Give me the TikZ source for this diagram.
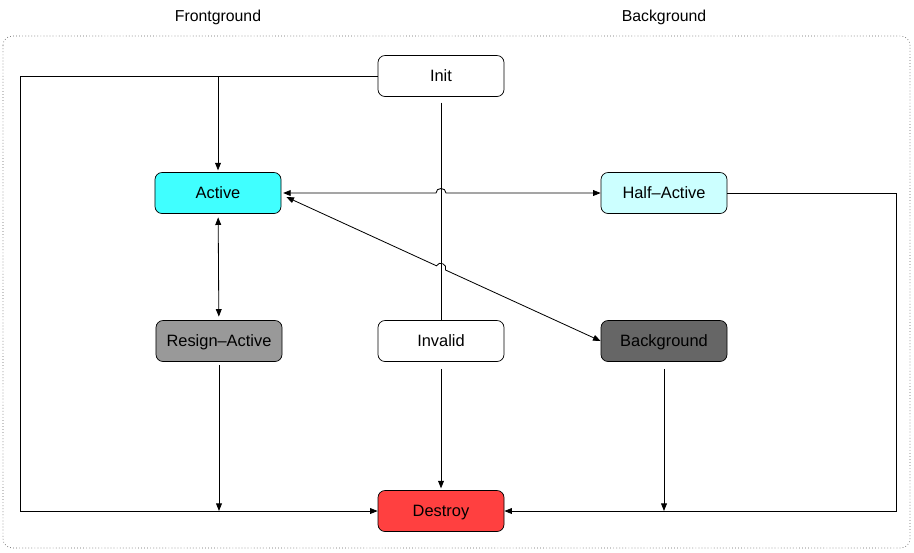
\documentclass[tikz,border=0pt]{standalone}
\usepackage{fontspec}
\setmainfont{Liberation Sans}
\usetikzlibrary{arrows.meta,calc}

\definecolor{activecol}{RGB}{64,255,255}
\definecolor{halfcol}{RGB}{204,255,255}
\definecolor{resigncol}{RGB}{153,153,153}
\definecolor{bgroundcol}{RGB}{102,102,102}
\definecolor{destroycol}{RGB}{255,64,64}

\begin{document}
\begin{tikzpicture}[>={Triangle[length=6.5pt,width=5pt]}, x=0.03cm, y=-0.03cm,
    line width=0.7pt, font=\fontsize{13.5}{16}\selectfont,
    box/.style={rectangle, draw=black, rounded corners=6pt, line width=0.6pt,
        minimum width=3.78cm, minimum height=1.23cm, inner sep=0pt,
        font=\fontsize{14}{16}\selectfont, text height=10pt, text depth=0pt}]
\useasboundingbox (0,0) rectangle (914,552);
\draw [black!60, dotted, line width=0.6pt, rounded corners=8pt] (3,36) rectangle (910,548);
\coordinate (0) at (441,76);
\coordinate (1) at (218,193);
\coordinate (2) at (664,193);
\coordinate (3) at (219,341);
\coordinate (4) at (441,341);
\coordinate (5) at (664,341);
\coordinate (6) at (441,511);
\coordinate (7) at (20,76);
\coordinate (8) at (896,193);
\coordinate (9) at (436,193);
\coordinate (10) at (446,193);
\coordinate (11) at (436.5,265.8);
\coordinate (12) at (445.5,270.0);
\node [text height=10pt, text depth=0pt] at (218,16) {Frontground};
\node [text height=10pt, text depth=0pt] at (664,16) {Background};
\node [box, fill=white] (init) at (0) {Init};
\node [box, fill=activecol] (active) at (1) {Active};
\node [box, fill=halfcol] (halfactive) at (2) {Half--Active};
\node [box, fill=resigncol] (resign) at (3) {Resign--Active};
\node [box, fill=white] (invalid) at (4) {Invalid};
\node [box, fill=bgroundcol] (bground) at (5) {Background};
\node [box, fill=destroycol] (destroy) at (6) {Destroy};
\draw [->, shorten >=1.5pt] (init.west) -| (active.north);
\draw [->] (init.west) -- (7) |- (destroy.west);
\draw [shorten <=5pt] (init) -- (invalid);
\draw [<->, shorten <=1.5pt] (active.east) -- (9) .. controls (436,187) and (446,187) .. (10) -- (halfactive.west);
\draw [<->] ([shift={(5,4)}]active.east) -- (11) .. controls (439,260.3) and (448,264.5) .. (12) -- (bground.west);
\draw [<->, shorten <=3pt, shorten >=3pt] (active) -- (resign);
\draw [->, shorten <=2.5pt] (resign.south) -- (resign.south |- destroy.west);
\draw [->, shorten <=6pt, shorten >=1.5pt] (invalid) -- (destroy);
\draw [->, shorten <=6pt] (bground.south) -- (bground.south |- destroy.east);
\draw [->] (halfactive.east) -- (8) |- (destroy.east);
\end{tikzpicture}
\end{document}
